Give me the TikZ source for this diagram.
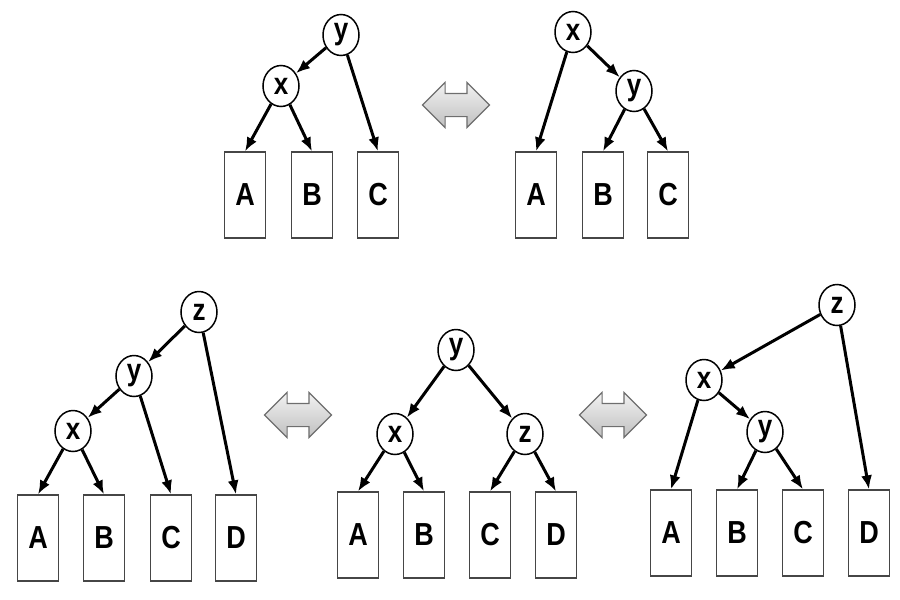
\documentclass[tikz,border=0pt]{standalone}
\usepackage{fontspec}
\setmainfont{Liberation Sans}[BoldFont={Liberation Sans Bold}]
\usepackage{tikz}
\usetikzlibrary{shapes.geometric, shapes.arrows, arrows.meta, positioning}
\definecolor{edgegray}{RGB}{70, 70, 70}
\definecolor{swapline}{RGB}{110, 110, 110}
\newcommand{\tall}[1]{\scalebox{1}[1.18]{#1}}

\begin{document}
\begin{tikzpicture}[
    x=1pt, y=1pt,
    key/.style={ellipse, draw=black, line width=1.5pt, fill=white,
                minimum width=36pt, minimum height=41pt, inner sep=0pt,
                font=\fontsize{26}{26}\selectfont\bfseries},
    leaf/.style={rectangle, draw=edgegray, line width=1.2pt, fill=white,
                 minimum width=41pt, minimum height=86pt, inner sep=0pt,
                 font=\fontsize{27}{27}\selectfont\bfseries},
    link/.style={-{Latex[length=14pt, width=11pt]}, line width=3pt},
    swap/.style={double arrow, draw=swapline, line width=1.1pt,
                 top color=gray!10, bottom color=gray!50,
                 minimum height=67pt, minimum width=44pt,
                 inner xsep=0pt, inner ysep=11pt,
                 double arrow head extend=11pt}
]
    \useasboundingbox (0,0) rectangle (900,-600);

    % Top left: y above x
    \node[key] (ay) at (341,-35) {\tall{y}};
    \node[key] (ax) at (281,-86) {\tall{x}};
    \node[leaf] (aA) at (245,-195) {\tall{A}};
    \node[leaf] (aB) at (312,-195) {\tall{B}};
    \node[leaf] (aC) at (378,-195) {\tall{C}};
    \draw[link] (ay) -- (ax);
    \draw[link] (ax) -- (aA.north);
    \draw[link] (ax) -- (aB.north);
    \draw[link] (ay) -- (aC.north);

    \node[swap] (swapTop) at (456,-105) {};

    % Top right: x above y
    \node[key] (bx) at (573,-32) {\tall{x}};
    \node[key] (by) at (634,-91) {\tall{y}};
    \node[leaf] (bA) at (536,-195) {\tall{A}};
    \node[leaf] (bB) at (603,-195) {\tall{B}};
    \node[leaf] (bC) at (668,-195) {\tall{C}};
    \draw[link] (bx) -- (by);
    \draw[link] (bx) -- (bA.north);
    \draw[link] (by) -- (bB.north);
    \draw[link] (by) -- (bC.north);

    % Bottom left: z, y, x in a chain
    \node[key] (cz) at (199,-312) {\tall{z}};
    \node[key] (cy) at (134,-376) {\tall{y}};
    \node[key] (cx) at (73,-431) {\tall{x}};
    \node[leaf] (cA) at (38,-538) {\tall{A}};
    \node[leaf] (cB) at (104,-538) {\tall{B}};
    \node[leaf] (cC) at (171,-538) {\tall{C}};
    \node[leaf] (cD) at (236,-538) {\tall{D}};
    \draw[link] (cz) -- (cy);
    \draw[link] (cy) -- (cx);
    \draw[link] (cx) -- (cA.north);
    \draw[link] (cx) -- (cB.north);
    \draw[link] (cy) -- (cC.north);
    \draw[link] (cz) -- (cD.north);

    \node[swap] (swapLeft) at (298,-415) {};

    % Bottom middle: balanced
    \node[key] (dy) at (456,-350) {\tall{y}};
    \node[key] (dx) at (395,-434) {\tall{x}};
    \node[key] (dz) at (525,-434) {\tall{z}};
    \node[leaf] (dA) at (358,-535) {\tall{A}};
    \node[leaf] (dB) at (424,-535) {\tall{B}};
    \node[leaf] (dC) at (490,-535) {\tall{C}};
    \node[leaf] (dD) at (556,-535) {\tall{D}};
    \draw[link] (dy) -- (dx);
    \draw[link] (dy) -- (dz);
    \draw[link] (dx) -- (dA.north);
    \draw[link] (dx) -- (dB.north);
    \draw[link] (dz) -- (dC.north);
    \draw[link] (dz) -- (dD.north);

    \node[swap] (swapRight) at (613,-415) {};

    % Bottom right: z, x, y zig-zag
    \node[key] (ez) at (837,-305) {\tall{z}};
    \node[key] (ex) at (704,-380) {\tall{x}};
    \node[key] (ey) at (765,-432) {\tall{y}};
    \node[leaf] (eA) at (671,-533) {\tall{A}};
    \node[leaf] (eB) at (737,-533) {\tall{B}};
    \node[leaf] (eC) at (803,-533) {\tall{C}};
    \node[leaf] (eD) at (869,-533) {\tall{D}};
    \draw[link] (ez) -- (ex);
    \draw[link] (ex) -- (ey);
    \draw[link] (ex) -- (eA.north);
    \draw[link] (ey) -- (eB.north);
    \draw[link] (ey) -- (eC.north);
    \draw[link] (ez) -- (eD.north);
\end{tikzpicture}
\end{document}
